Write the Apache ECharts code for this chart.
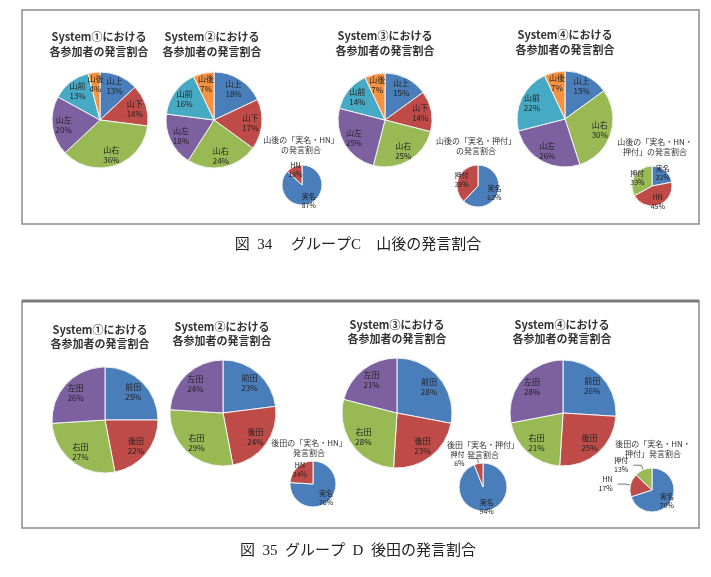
<!DOCTYPE html>
<html>
<head>
<meta charset="utf-8">
<script src="https://cdn.jsdelivr.net/npm/echarts@6/dist/echarts.min.js"></script>
<style>
html, body { margin: 0; background: #fff; }
#chart { width: 711px; height: 577px; }
</style>
</head>
<body>
<div id="chart"></div>
<script>
// 図34 グループC 山後
var c_names = ['山上', '山下', '山右', '山左', '山前', '山後']
var c_sys1 = [13, 14, 36, 20, 13, 4]
var c_sys2 = [18, 17, 24, 18, 16, 7]
var c_sys3 = [15, 14, 25, 25, 14, 7]
var c_sys4_names = ['山上', '山右', '山左', '山前', '山後']
var c_sys4 = [15, 30, 26, 22, 7]
var c_hn_names = ['実名', 'HN']
var c_hn = [87, 13]
var c_osu_names = ['実名', '押付']
var c_osu = [62, 38]
var c_all_names = ['実名', 'HN', '押付']
var c_all = [22, 45, 33]

// 図35 グループD 後田
var d_names = ['前田', '後田', '右田', '左田']
var d_sys1 = [25, 22, 27, 26]
var d_sys2 = [23, 24, 29, 24]
var d_sys3 = [28, 23, 28, 21]
var d_sys4 = [26, 25, 21, 28]
var d_hn_names = ['実名', 'HN']
var d_hn = [76, 24]
var d_osu_names = ['実名', '押付']
var d_osu = [94, 6]
var d_all_names = ['実名', 'HN', '押付']
var d_all = [70, 17, 13]

var palette = ['#4a7ebb', '#be4b48', '#98b954', '#7d60a0', '#46aac5', '#f69240']
// 大きい円は人ごとに色を固定
var nameColor = {
  '山上': palette[0], '山下': palette[1], '山右': palette[2], '山左': palette[3], '山前': palette[4], '山後': palette[5],
  '前田': palette[0], '後田': palette[1], '右田': palette[2], '左田': palette[3]
}
var jp = '"Noto Sans CJK JP", sans-serif'

// 円1つ分（塗り + ラベル用の透明リング）
function pie(names, values, cx, cy, r, fontSize, outside) {
  outside = outside || []
  var fill = names.map(function (n, i) {
    return { name: n, value: values[i], itemStyle: { color: nameColor[n] || palette[i] } }
  })
  var labels = names.map(function (n, i) {
    var d = { name: n, value: values[i] }
    if (outside.indexOf(n) >= 0) {
      d.label = { position: 'outside' }
      d.labelLine = { show: true, length: 5, length2: 8, lineStyle: { color: '#555', width: 0.8 } }
    }
    return d
  })
  return [
    {
      type: 'pie', center: [cx, cy], radius: [0, r], startAngle: 90,
      data: fill, silent: true, animation: false,
      label: { show: false }, labelLine: { show: false },
      itemStyle: { borderColor: '#f4f4f4', borderWidth: 1 }
    },
    {
      type: 'pie', center: [cx, cy], radius: [r * 0.4, r], startAngle: 90,
      data: labels, silent: true, animation: false, avoidLabelOverlap: false,
      itemStyle: { color: 'rgba(0,0,0,0)' },
      label: {
        position: 'inside', formatter: '{b}\n{c}%', fontSize: fontSize, lineHeight: fontSize + 2,
        color: '#222', fontFamily: jp
      },
      labelLine: { show: false }
    }
  ]
}

function txt(s, x, y, size, weight, lh) {
  return {
    type: 'text', x: x, y: y,
    style: {
      text: s, align: 'center', verticalAlign: 'middle', textAlign: 'center', textVerticalAlign: 'middle',
      fontSize: size, fontWeight: weight, fontFamily: jp, lineHeight: lh, fill: '#333'
    }
  }
}

var series = [].concat(
  pie(c_names, c_sys1, 100, 120, 48, 8),
  pie(c_names, c_sys2, 214, 120, 48, 8),
  pie(c_names, c_sys3, 385, 120, 47, 8),
  pie(c_sys4_names, c_sys4, 565, 119, 48, 8),
  pie(c_hn_names, c_hn, 302, 185, 20, 7),
  pie(c_osu_names, c_osu, 478, 186, 21, 7),
  pie(c_all_names, c_all, 652, 186, 20, 7),
  pie(d_names, d_sys1, 105, 420, 53, 8),
  pie(d_names, d_sys2, 223, 413, 53, 8),
  pie(d_names, d_sys3, 397, 413, 55, 8),
  pie(d_names, d_sys4, 563, 413, 53, 8),
  pie(d_hn_names, d_hn, 313, 484, 23, 7),
  pie(d_osu_names, d_osu, 483, 487, 24, 7, ['押付']),
  pie(d_all_names, d_all, 652, 490, 22, 7, ['HN', '押付'])
)

var myChart = echarts.init(document.getElementById('chart'))

var option = {
  backgroundColor: '#fff',
  animation: false,
  series: series,
  graphic: [
    // 枠
    { type: 'rect', shape: { x: 22, y: 10, width: 677, height: 214 }, style: { fill: 'none', stroke: '#8c8c8c', lineWidth: 1.5 } },
    { type: 'rect', shape: { x: 22, y: 301, width: 677, height: 227 }, style: { fill: 'none', stroke: '#8c8c8c', lineWidth: 1.5 } },
    { type: 'line', shape: { x1: 22, y1: 301, x2: 699, y2: 301 }, style: { stroke: '#7a7a7a', lineWidth: 3 } },
    // 図34 タイトル
    txt('System①における\n各参加者の発言割合', 99, 44, 11, 'bold', 15),
    txt('System②における\n各参加者の発言割合', 212, 44, 11, 'bold', 15),
    txt('System③における\n各参加者の発言割合', 385, 43.5, 11, 'bold', 15),
    txt('System④における\n各参加者の発言割合', 565, 42, 11, 'bold', 15),
    txt('山後の「実名・HN」\nの発言割合', 301, 145, 8, 'normal', 10),
    txt('山後の「実名・押付」\nの発言割合', 476, 145.5, 8, 'normal', 10),
    txt('山後の「実名・HN・\n押付」の発言割合', 655, 146.5, 8, 'normal', 10),
    // 図35 タイトル
    txt('System①における\n各参加者の発言割合', 100, 336.5, 11, 'bold', 14),
    txt('System②における\n各参加者の発言割合', 222, 334, 11, 'bold', 14),
    txt('System③における\n各参加者の発言割合', 397, 332, 11, 'bold', 14),
    txt('System④における\n各参加者の発言割合', 562, 331.5, 11, 'bold', 14),
    txt('後田の「実名・HN」\n発言割合', 309, 448, 8, 'normal', 10),
    txt('後田「実名・押付」\n発言割合', 483, 449.5, 8, 'normal', 10),
    txt('後田の「実名・HN・\n押付」発言割合', 653, 448.5, 8, 'normal', 10),
    // キャプション
    {
      type: 'text', x: 358, y: 245,
      style: { text: '図  34　 グループC　山後の発言割合', align: 'center', verticalAlign: 'middle', fontSize: 15,
        fontFamily: '"Liberation Serif", "Noto Sans CJK JP", serif', fill: '#222' }
    },
    {
      type: 'text', x: 358, y: 551,
      style: { text: '図  35  グループ  D  後田の発言割合', align: 'center', verticalAlign: 'middle', fontSize: 15,
        fontFamily: '"Liberation Serif", "Noto Sans CJK JP", serif', fill: '#222' }
    }
  ]
}

myChart.setOption(option)
</script>
</body>
</html>
